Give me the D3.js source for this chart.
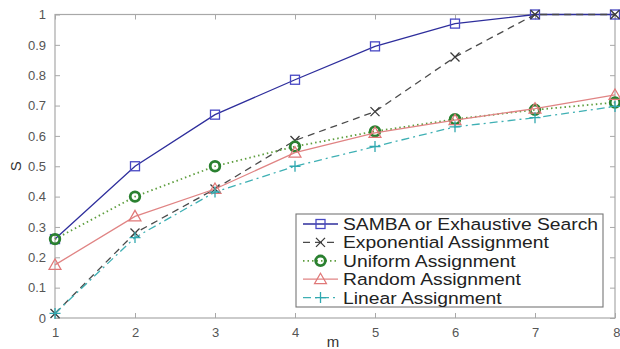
<!DOCTYPE html>
<html>
<head>
<meta charset="utf-8">
<script src="https://cdn.jsdelivr.net/npm/d3@7.9.0/dist/d3.min.js"></script>
<style>
  body { margin: 0; background: #fff; }
  svg { display: block; font-family: "Liberation Sans", Arial, sans-serif; }
</style>
</head>
<body>
<svg id="chart" width="620" height="349"></svg>
<script>
// Data
const mValues = [1, 2, 3, 4, 5, 6, 7, 8];
const sambaValues = [0.26, 0.50, 0.67, 0.785, 0.895, 0.97, 1.0, 1.0];
const exponentialValues = [0.015, 0.28, 0.425, 0.585, 0.68, 0.86, 1.0, 1.0];
const uniformValues = [0.26, 0.40, 0.50, 0.565, 0.615, 0.655, 0.686, 0.71];
const randomValues = [0.175, 0.335, 0.425, 0.545, 0.61, 0.652, 0.69, 0.735];
const linearValues = [0.015, 0.265, 0.415, 0.50, 0.565, 0.63, 0.66, 0.697];
const yTicks = [0, 0.1, 0.2, 0.3, 0.4, 0.5, 0.6, 0.7, 0.8, 0.9, 1];
const yTickLabels = ['0', '0.1', '0.2', '0.3', '0.4', '0.5', '0.6', '0.7', '0.8', '0.9', '1'];

const series = [
  { name: 'SAMBA or Exhaustive Search', values: sambaValues, color: '#2e2e9c', markColor: '#4848c4', dash: null, marker: 'square' },
  { name: 'Exponential Assignment', values: exponentialValues, color: '#4a4a4a', markColor: '#3a3a3a', dash: '7,5', marker: 'cross' },
  { name: 'Uniform Assignment', values: uniformValues, color: '#5e9e3e', markColor: '#2a8030', dash: '1.5,3', marker: 'circle' },
  { name: 'Random Assignment', values: randomValues, color: '#e08484', markColor: '#e07878', dash: null, marker: 'triangle' },
  { name: 'Linear Assignment', values: linearValues, color: '#3fb0b4', markColor: '#30a8b0', dash: '8,4,2,4', marker: 'plus' },
];

const svg = d3.select('#chart');
const plotLeft = 55, plotRight = 615, plotTop = 14.5, plotBottom = 318;

const x = d3.scaleLinear().domain([1, 8]).range([plotLeft, plotRight]);
const y = d3.scaleLinear().domain([0, 1]).range([plotBottom, plotTop]);

const axisColor = '#a8a8a8';
const labelColor = '#555';

// Plot box
svg.append('rect')
  .attr('x', plotLeft).attr('y', plotTop)
  .attr('width', plotRight - plotLeft).attr('height', plotBottom - plotTop)
  .attr('fill', 'none').attr('stroke', axisColor).attr('stroke-width', 1.2);

// Axes with inward ticks
const xAxis = svg.append('g').attr('transform', `translate(0,${plotBottom})`)
  .call(d3.axisBottom(x).tickValues(mValues).tickSize(-5).tickPadding(10).tickFormat(d3.format('d')));
const xTop = svg.append('g').attr('transform', `translate(0,${plotTop})`)
  .call(d3.axisTop(x).tickValues(mValues).tickSize(-5).tickFormat(''));
const yAxis = svg.append('g').attr('transform', `translate(${plotLeft},0)`)
  .call(d3.axisLeft(y).tickValues(yTicks).tickSize(-5).tickPadding(9)
    .tickFormat((d, i) => yTickLabels[i]));
const yRight = svg.append('g').attr('transform', `translate(${plotRight},0)`)
  .call(d3.axisRight(y).tickValues(yTicks).tickSize(-5).tickFormat(''));

[xAxis, xTop, yAxis, yRight].forEach(g => {
  g.select('.domain').remove();
  g.selectAll('line').attr('stroke', axisColor);
  g.selectAll('text').attr('fill', labelColor).attr('font-size', 13)
    .attr('font-family', '"Liberation Sans", Arial, sans-serif');
});
// last x label sits at the window edge; keep it inside
xAxis.selectAll('text').filter(d => d === 8).attr('text-anchor', 'end').attr('dx', 5);

// Axis titles
svg.append('text').attr('x', 333).attr('y', 347)
  .attr('text-anchor', 'middle').attr('font-size', 15).attr('fill', '#333').text('m');
svg.append('text')
  .attr('transform', `translate(21,${y(0.5)}) rotate(-90)`)
  .attr('text-anchor', 'middle').attr('font-size', 15).attr('fill', '#333').text('S');

// Markers
function drawMarker(g, type, cx, cy, color) {
  if (type === 'square') {
    g.append('rect').attr('x', cx - 4.5).attr('y', cy - 4.5).attr('width', 9).attr('height', 9)
      .attr('fill', 'none').attr('stroke', color).attr('stroke-width', 1.3);
  } else if (type === 'cross') {
    g.append('path').attr('d', `M${cx - 4.5},${cy - 4.5}L${cx + 4.5},${cy + 4.5}M${cx - 4.5},${cy + 4.5}L${cx + 4.5},${cy - 4.5}`)
      .attr('stroke', color).attr('stroke-width', 1.3);
  } else if (type === 'circle') {
    g.append('circle').attr('cx', cx).attr('cy', cy).attr('r', 4.8)
      .attr('fill', 'none').attr('stroke', color).attr('stroke-width', 2.8);
  } else if (type === 'triangle') {
    g.append('path').attr('d', `M${cx},${cy - 6}L${cx + 6},${cy + 4.5}L${cx - 6},${cy + 4.5}Z`)
      .attr('fill', 'none').attr('stroke', color).attr('stroke-width', 1.2);
  } else if (type === 'plus') {
    g.append('path').attr('d', `M${cx - 5.5},${cy}L${cx + 5.5},${cy}M${cx},${cy - 5.5}L${cx},${cy + 5.5}`)
      .attr('stroke', color).attr('stroke-width', 1.3);
  }
}

const line = d3.line().x((d, i) => x(mValues[i])).y(d => y(d));

series.forEach(s => {
  const g = svg.append('g');
  g.append('path').attr('d', line(s.values))
    .attr('fill', 'none').attr('stroke', s.color).attr('stroke-width', s.marker === 'circle' ? 1.8 : 1.3)
    .attr('stroke-dasharray', s.dash);
  s.values.forEach((v, i) => drawMarker(g, s.marker, x(mValues[i]), y(v), s.markColor));
});

// Legend
const legX = 296, legY = 214, legW = 307, legH = 93, rowH = 18.4;
const legend = svg.append('g');
legend.append('rect').attr('x', legX).attr('y', legY).attr('width', legW).attr('height', legH)
  .attr('fill', '#fff').attr('stroke', '#777').attr('stroke-width', 1.1);
series.forEach((s, i) => {
  const cy = legY + 10 + i * rowH;
  legend.append('line').attr('x1', legX + 7).attr('x2', legX + 42).attr('y1', cy).attr('y2', cy)
    .attr('stroke', s.color).attr('stroke-width', s.marker === 'circle' ? 1.8 : 1.3)
    .attr('stroke-dasharray', s.dash);
  drawMarker(legend, s.marker, legX + 24.5, cy, s.markColor);
  // reference text is a little wider than tall, so stretch it sideways
  legend.append('text')
    .attr('transform', `translate(${legX + 47},${cy}) scale(1.17,1)`)
    .attr('dy', '0.36em')
    .attr('font-size', 16.5).attr('fill', '#222').text(s.name);
});
</script>
</body>
</html>
